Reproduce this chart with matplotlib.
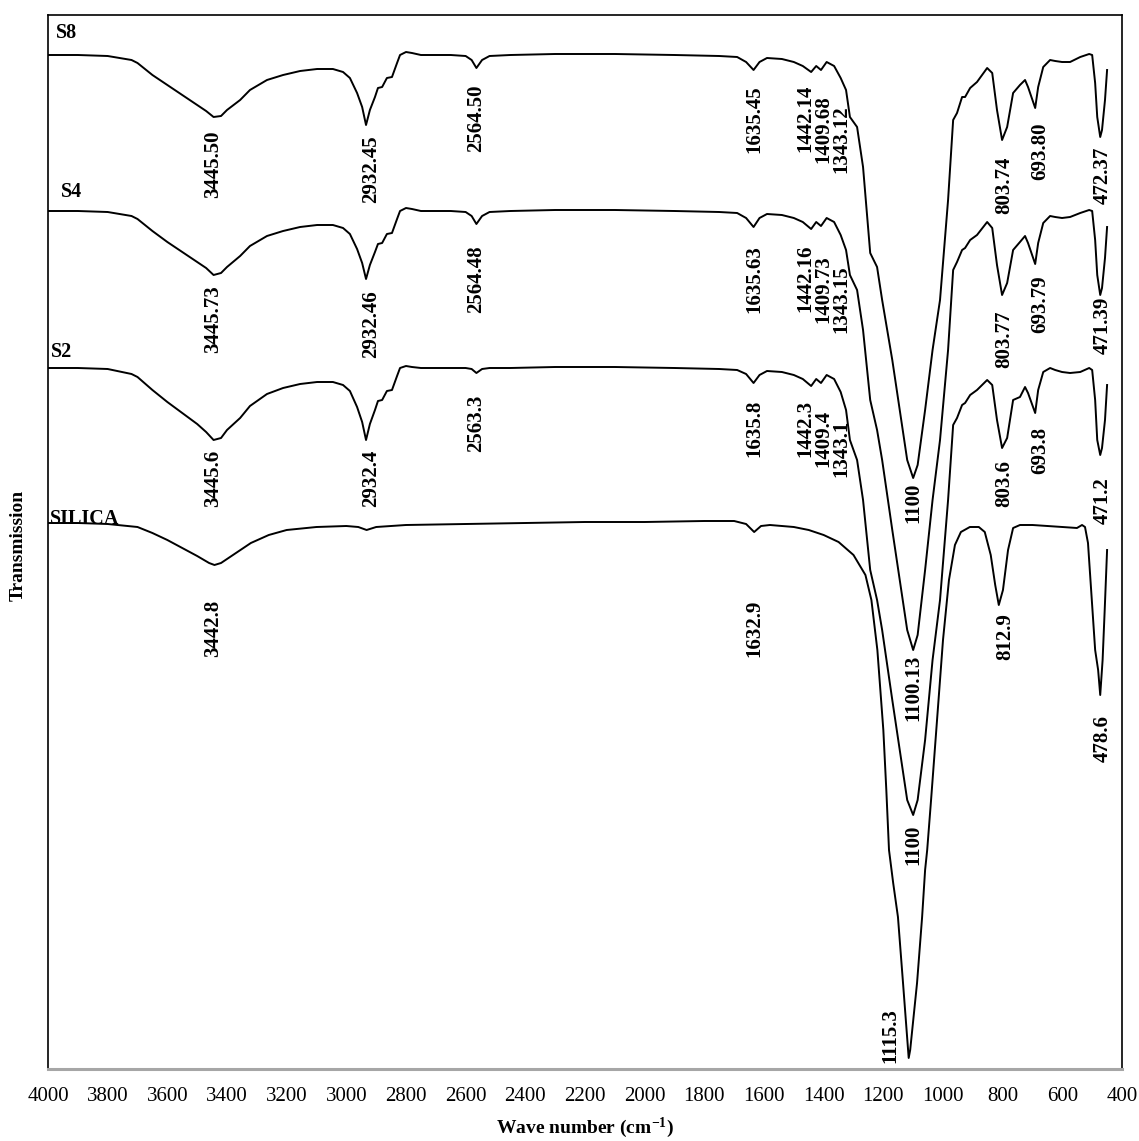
import matplotlib
matplotlib.use('Agg')
import matplotlib.pyplot as plt

plt.rcParams['font.family'] = ['Liberation Serif', 'DejaVu Serif']
plt.rcParams['mathtext.fontset'] = 'custom'
plt.rcParams['mathtext.rm'] = 'Liberation Serif:bold'
plt.rcParams['mathtext.bf'] = 'Liberation Serif:bold'
plt.rcParams['mathtext.default'] = 'rm'

# ---------------- data (wavenumber in cm-1, transmission in arbitrary offset units) -------------
WN = [4000, 3900, 3800, 3720, 3700, 3650, 3600, 3550, 3500, 3470,
      3445, 3420, 3400, 3356, 3323, 3266, 3212, 3155, 3098, 3045,
      3011, 2988, 2964, 2947, 2934, 2921, 2904, 2894, 2880, 2864,
      2847, 2830, 2820, 2800, 2780, 2750, 2700, 2650, 2600, 2580,
      2564, 2545, 2520, 2450, 2300, 2100, 1900, 1750, 1690, 1660,
      1635, 1615, 1590, 1540, 1500, 1470, 1442, 1425, 1409, 1390,
      1365, 1343, 1325, 1312, 1288, 1268, 1244, 1221, 1204, 1170,
      1140, 1120, 1100, 1085, 1060, 1035, 1010, 983, 966, 953,
      936, 926, 909, 886, 852, 835, 819, 802, 785, 765,
      742, 725, 715, 691, 681, 664, 641, 624, 601, 574,
      540, 510, 500, 490, 483, 473, 467, 457, 450]

S8 = [1014, 1014, 1013, 1009, 1006, 994, 984, 974, 964, 958,
      952, 953, 959, 969, 979, 989, 994, 998, 1000, 1000,
      997, 991, 976, 962, 944, 959, 972, 981, 982, 991,
      992, 1006, 1014, 1017, 1016, 1014, 1014, 1014, 1013, 1009,
      1001, 1009, 1013, 1014, 1015, 1015, 1014, 1013, 1012, 1007,
      999, 1007, 1011, 1010, 1007, 1003, 997, 1003, 999, 1007,
      1003, 991, 979, 952, 942, 902, 816, 802, 769, 709,
      649, 609, 591, 604, 659, 719, 769, 869, 949, 956,
      972, 972, 981, 987, 1001, 996, 959, 929, 942, 976,
      984, 989, 982, 961, 982, 1002, 1009, 1008, 1007, 1007,
      1012, 1015, 1014, 986, 952, 932, 939, 969, 999]

S4 = [858, 858, 857, 853, 850, 838, 827, 817, 807, 801,
      794, 796, 802, 813, 823, 833, 838, 842, 844, 844,
      841, 835, 820, 806, 790, 804, 817, 825, 826, 835,
      836, 850, 858, 861, 860, 858, 858, 858, 857, 853,
      845, 853, 857, 858, 859, 859, 858, 857, 856, 851,
      842, 851, 855, 854, 851, 847, 840, 847, 843, 851,
      847, 834, 819, 794, 779, 739, 669, 639, 609, 539,
      479, 439, 419, 434, 499, 569, 629, 719, 799, 807,
      819, 821, 829, 834, 847, 841, 804, 774, 786, 819,
      827, 833, 826, 805, 826, 846, 853, 852, 851, 852,
      856, 859, 858, 829, 794, 774, 781, 811, 842]

S2 = [701, 701, 700, 695, 692, 679, 667, 656, 645, 637,
      629, 631, 639, 651, 663, 675, 681, 685, 687, 687,
      684, 678, 662, 647, 629, 645, 659, 668, 669, 678,
      679, 693, 701, 703, 702, 701, 701, 701, 701, 700,
      696, 700, 701, 701, 702, 702, 701, 700, 699, 695,
      686, 694, 698, 697, 694, 690, 683, 690, 686, 694,
      690, 677, 659, 629, 609, 569, 499, 469, 439, 369,
      309, 269, 254, 269, 329, 409, 469, 569, 644, 651,
      664, 666, 674, 679, 689, 684, 649, 621, 631, 669,
      672, 682, 676, 656, 679, 697, 701, 699, 697, 696,
      697, 701, 699, 669, 629, 614, 621, 649, 684]

WN_SILICA = [4000, 3900, 3800, 3700, 3650, 3600, 3550, 3500, 3460, 3442,
             3420, 3380, 3320, 3260, 3200, 3100, 3000, 2960, 2932, 2900,
             2800, 2600, 2400, 2200, 2000, 1800, 1700, 1660, 1633, 1610,
             1580, 1500, 1450, 1400, 1350, 1300, 1260, 1240, 1220, 1200,
             1190, 1181, 1167, 1151, 1134, 1115, 1110, 1087, 1070, 1060,
             1053, 1040, 1020, 1000, 980, 960, 940, 910, 880, 860,
             840, 825, 813, 799, 782, 765, 742, 700, 600, 551,
             534, 524, 514, 490, 480, 473, 465, 458, 450]

SILICA = [546, 546, 545, 542, 536, 529, 521, 513, 506, 504,
          506, 514, 526, 534, 539, 542, 543, 542, 539, 542,
          544, 545, 546, 547, 547, 548, 548, 545, 537, 543,
          544, 542, 539, 534, 527, 514, 494, 469, 419, 339,
          279, 219, 186, 152, 86, 11, 19, 86, 152, 199,
          219, 269, 349, 429, 489, 524, 537, 542, 542, 537,
          514, 484, 464, 479, 519, 541, 544, 544, 542, 541,
          544, 542, 526, 419, 399, 374, 409, 459, 519]

SERIES_NAMES = ["S8", "S4", "S2", "SILICA"]

PEAKS_S8 = ["3445.50", "2932.45", "2564.50", "1635.45", "1442.14", "1409.68",
            "1343.12", "1100", "803.74", "693.80", "472.37"]
PEAKS_S4 = ["3445.73", "2932.46", "2564.48", "1635.63", "1442.16", "1409.73",
            "1343.15", "1100.13", "803.77", "693.79", "471.39"]
PEAKS_S2 = ["3445.6", "2932.4", "2563.3", "1635.8", "1442.3", "1409.4",
            "1343.1", "1100", "803.6", "693.8", "471.2"]
PEAKS_SILICA = ["3442.8", "1632.9", "812.9", "478.6", "1115.3"]

XTICKS = list(range(4000, 399, -200))

# ---------------- layout ----------------
W, H = 1139, 1141
fig = plt.figure(figsize=(W / 100, H / 100), dpi=100)
ax = fig.add_axes([48 / W, (H - 1069) / H, 1074 / W, (1069 - 15) / H])

lw = 1.4
ax.plot(WN, S8, color='black', lw=lw)
ax.plot(WN, S4, color='black', lw=lw)
ax.plot(WN, S2, color='black', lw=lw)
ax.plot(WN_SILICA, SILICA, color='black', lw=lw)

ax.set_xlim(4000, 400)
ax.set_ylim(0, 1054)
ax.set_xticks(XTICKS)
ax.set_xticklabels([str(t) for t in XTICKS], fontsize=15)
ax.set_yticks([])
ax.tick_params(axis='x', length=0, pad=13)

for s in ['left', 'top', 'right']:
    ax.spines[s].set_color('black')
    ax.spines[s].set_linewidth(1.2)
ax.spines['bottom'].set_color('#a6a6a6')
ax.spines['bottom'].set_linewidth(2.2)

# series names (x wavenumber, y level)
name_pos = [(3975, 1036), (3955, 877), (3990, 717), (3993, 550)]
for name, (x, y) in zip(SERIES_NAMES, name_pos):
    ax.text(x, y, name, fontsize=14.5, fontweight='bold', ha='left', va='center')

# peak labels: x position (cm-1) and top of text
pos_x = [3447, 2917, 2565, 1633, 1462, 1402, 1342, 1100, 795, 675, 463]
top_S8 = [939, 934, 984, 984, 984, 974, 964, 586, 912, 946, 922]
top_S4 = [784, 779, 824, 824, 824, 814, 804, 414, 759, 794, 772]
top_S2 = [619, 619, 674, 669, 669, 659, 649, 244, 609, 642, 592]

fs = 15
for peaks, tops in [(PEAKS_S8, top_S8), (PEAKS_S4, top_S4), (PEAKS_S2, top_S2)]:
    for lab, x, y in zip(peaks, pos_x, tops):
        ax.text(x, y, lab, rotation=90, fontsize=fs, fontweight='bold',
                ha='center', va='top')

sil_x = [3447, 1633, 790, 463]
sil_top = [469, 469, 456, 354]
for lab, x, y in zip(PEAKS_SILICA[:4], sil_x, sil_top):
    ax.text(x, y, lab, rotation=90, fontsize=fs, fontweight='bold', ha='center', va='top')
ax.text(1177, 6, PEAKS_SILICA[4], rotation=90, fontsize=fs, fontweight='bold',
        ha='center', va='bottom')

fig.text(18 / W, 1 - 545 / H, 'Transmission', rotation=90, fontsize=14,
         fontweight='bold', ha='center', va='center')
fig.text(585 / W, 1 - 1128 / H, 'Wave number (cm$^{-1}$)', fontsize=14,
         fontweight='bold', ha='center', va='center')

fig.savefig('out.png', dpi=100)
